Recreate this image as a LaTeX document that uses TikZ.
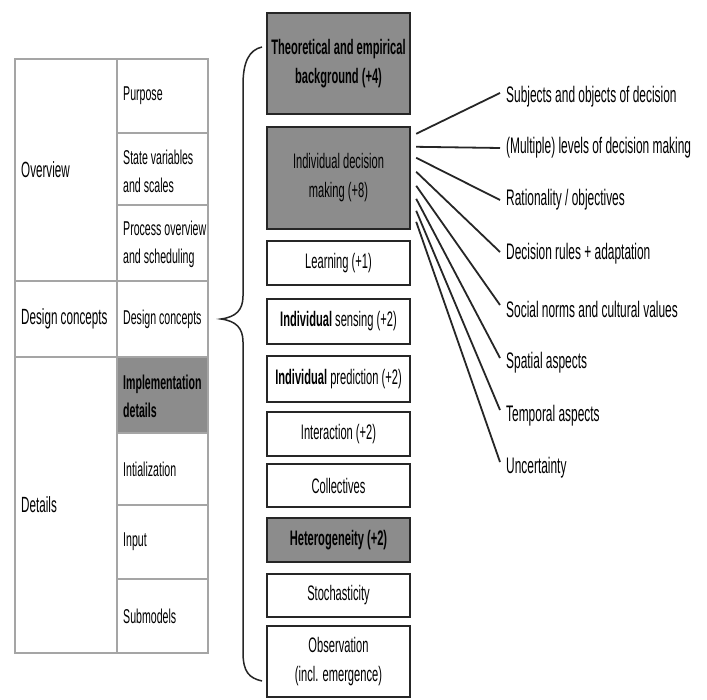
\documentclass[tikz,border=0pt]{standalone}
\usepackage{fontspec}
\setmainfont{Liberation Sans}[FakeStretch=0.53]
\definecolor{boxgray}{RGB}{140,140,140}
\definecolor{tgray}{RGB}{165,165,165}
\begin{document}
\begin{tikzpicture}[x=1pt,y=-1pt,
  mbox/.style={draw=black!85, line width=2.4pt, minimum width=143pt, inner sep=2pt, align=center, font=\fontsize{21}{29}\selectfont},
  gbox/.style={mbox, fill=boxgray},
  cell/.style={anchor=west, inner sep=0pt, align=left, font=\fontsize{20}{28}\selectfont},
  grp/.style={anchor=west, inner sep=0pt, font=\fontsize{22}{28}\selectfont},
  lab/.style={anchor=west, inner xsep=6pt, inner ysep=0pt, font=\fontsize{22.5}{28}\selectfont},
  conn/.style={line width=1.8pt, draw=black!85},
  tline/.style={line width=1.3pt, draw=tgray},
  bracestyle/.style={line width=1.5pt, draw=black!85}
]
\useasboundingbox[fill=white] (0,0) rectangle (707,700);

% ---- left table ----
\fill[boxgray] (117,357) rectangle (208,433);
\draw[tline] (15,59) rectangle (208,653);
\draw[tline] (117,59) -- (117,653);
\draw[tline] (15,281) -- (208,281);
\draw[tline] (15,357) -- (208,357);
\foreach \yy in {133,205,433,505,579} \draw[tline] (117,\yy) -- (208,\yy);

\node[grp] (gov) at (21,170) {Overview};
\node[grp] (gdc) at (21,319) {Design concepts};
\node[grp] (gdt) at (21,505) {Details};

\node[cell] (cpu) at (123,96) {Purpose};
\node[cell] (csv) at (123,171) {State variables\\and scales};
\node[cell] (cpo) at (123,244) {Process overview\\and scheduling};
\node[cell] (cdc) at (123,319) {Design concepts};
\node[cell] (cim) at (123,396) {\bfseries Implementation\\\bfseries details};
\node[cell] (cin) at (123,469) {Intialization};
\node[cell] (cip) at (123,542) {Input};
\node[cell] (csm) at (123,616) {Submodels};

% ---- brace ----
\draw[bracestyle] (262,47) .. controls (249,50) and (243,62) .. (243,85)
  -- (243,296) .. controls (243,310) and (236,317) .. (221,319)
  .. controls (236,321) and (243,328) .. (243,342)
  -- (243,652) .. controls (243,672) and (249,678) .. (262,681);

% ---- middle boxes ----
\node[gbox, minimum height=101pt] (tb) at (338.5,63.5) {\bfseries Theoretical and empirical\\\bfseries background (+4)};
\node[gbox, minimum height=102pt] (idm) at (338.5,178) {Individual decision\\making (+8)};
\node[mbox, minimum height=44pt] (lrn) at (338.5,263) {Learning (+1)};
\node[mbox, minimum height=45pt] (sen) at (338.5,321.5) {{\bfseries Individual} sensing (+2)};
\node[mbox, minimum height=46pt] (prd) at (338.5,379) {{\bfseries Individual} prediction (+2)};
\node[mbox, minimum height=44pt] (int) at (338.5,434) {Interaction (+2)};
\node[mbox, minimum height=43pt] (col) at (338.5,485.5) {Collectives};
\node[gbox, minimum height=44pt] (het) at (338.5,540) {\bfseries Heterogeneity (+2)};
\node[mbox, minimum height=43pt] (sto) at (338.5,595.5) {Stochasticity};
\node[mbox, minimum height=71pt] (obs) at (338.5,661.5) {Observation\\(incl. emergence)};

% ---- right labels ----
\node[lab] (l1) at (500,97) {Subjects and objects of decision};
\node[lab] (l2) at (500,148) {(Multiple) levels of decision making};
\node[lab] (l3) at (500,200) {Rationality / objectives};
\node[lab] (l4) at (500,254) {Decision rules + adaptation};
\node[lab] (l5) at (500,309) {Social norms and cultural values};
\node[lab] (l6) at (500,363) {Spatial aspects};
\node[lab] (l7) at (500,416) {Temporal aspects};
\node[lab] (l8) at (500,468) {Uncertainty};

\draw[conn] ([xshift=5pt,yshift=-8pt]idm.north east) -- ([yshift=4pt]l1.west);
\draw[conn] ([xshift=5pt,yshift=-21pt]idm.north east) -- (l2.west);
\draw[conn] ([xshift=5pt,yshift=-32pt]idm.north east) -- (l3.west);
\draw[conn] ([xshift=5pt,yshift=-46pt]idm.north east) -- ([yshift=2pt]l4.west);
\draw[conn] ([xshift=5pt,yshift=-60pt]idm.north east) -- ([yshift=4pt]l5.west);
\draw[conn] ([xshift=5pt,yshift=-73pt]idm.north east) -- ([yshift=5pt]l6.west);
\draw[conn] ([xshift=5pt,yshift=-85pt]idm.north east) -- ([yshift=6pt]l7.west);
\draw[conn] ([xshift=5pt,yshift=-96pt]idm.north east) -- ([yshift=6pt]l8.west);
\end{tikzpicture}
\end{document}
